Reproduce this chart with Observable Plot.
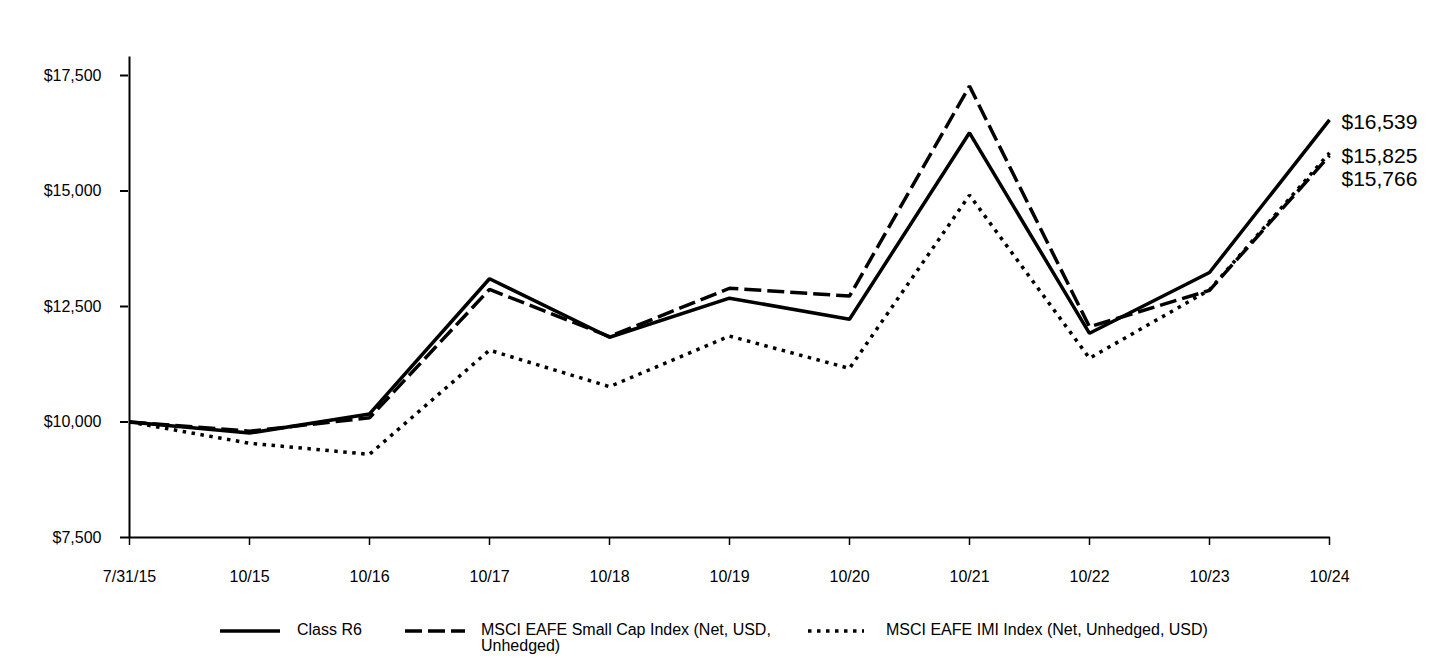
<!DOCTYPE html>
<html>
<head>
<meta charset="utf-8">
<script src="https://cdn.jsdelivr.net/npm/d3@7"></script>
<script src="https://cdn.jsdelivr.net/npm/@observablehq/plot@0.6"></script>
<style>
  html, body { margin: 0; padding: 0; background: #fff; }
  body { width: 1440px; height: 660px; position: relative; font-family: "Liberation Sans", Arial, sans-serif; }
  #legend { position: absolute; left: 0; top: 620px; width: 1440px; height: 40px; font-size: 16px; color: #000; }
  .item { position: absolute; top: 0; }
  .item svg { position: absolute; top: 7px; }
  .item .lbl { position: absolute; top: 2px; line-height: 16px; white-space: nowrap; }
</style>
</head>
<body>
<div id="chart"></div>
<div id="legend"></div>
<script>
const dates = ["7/31/15","10/15","10/16","10/17","10/18","10/19","10/20","10/21","10/22","10/23","10/24"];
const seriesNames = ["Class R6", "MSCI EAFE Small Cap Index (Net, USD, Unhedged)", "MSCI EAFE IMI Index (Net, Unhedged, USD)"];
const classR6  = [10000, 9760, 10175, 13100, 11835, 12680, 12225, 16260, 11920, 13235, 16539];
const smallCap = [10000, 9800, 10090, 12870, 11850, 12895, 12725, 17270, 12060, 12850, 15766];
const imi      = [10000, 9540,  9300, 11555, 10765, 11860, 11160, 14910, 11380, 12860, 15825];
const yTicks = [7500, 10000, 12500, 15000, 17500];

const allSeries = [classR6, smallCap, imi];
const data = [];
allSeries.forEach((vals, s) => vals.forEach((v, i) => data.push({series: seriesNames[s], date: dates[i], value: v})));
const last = data.filter(d => d.date === dates[dates.length - 1]);
const dashes = {[seriesNames[0]]: null, [seriesNames[1]]: "17,6", [seriesNames[2]]: "3.5,5.5"};

const sortedLast = [...last].sort((a, b) => b.value - a.value);
const fmt = d3.format("$,");

const marks = [
  Plot.ruleX([dates[0]], {y1: 7500, y2: 17900, stroke: "#000", strokeWidth: 2}),
  Plot.ruleY([7500], {stroke: "#000", strokeWidth: 2}),
  Plot.axisY({ticks: yTicks, tickSize: 8, tickPadding: 19, tickFormat: fmt, strokeWidth: 2, fontSize: 16, label: null}),
  Plot.axisX({tickSize: 8, tickPadding: 25, strokeWidth: 1.5, fontSize: 16, label: null}),
];
seriesNames.forEach(name => {
  marks.push(Plot.line(data.filter(d => d.series === name), {
    x: "date", y: "value", stroke: "#000", strokeWidth: 3.5,
    strokeDasharray: dashes[name], strokeLinecap: "butt", strokeLinejoin: "miter"
  }));
});
sortedLast.forEach((d, i) => {
  marks.push(Plot.text([d], {
    x: "date", y: "value", text: dd => fmt(dd.value),
    dx: 12, dy: i === 0 ? 2 : (i === 1 ? 3 : 24), textAnchor: "start", fontSize: 21, fill: "#000"
  }));
});

const chart = Plot.plot({
  width: 1440,
  height: 600,
  marginLeft: 128,
  marginRight: 110,
  marginTop: 75,
  marginBottom: 63,
  style: {fontFamily: "'Liberation Sans', Arial, sans-serif", fontSize: "16px", color: "#000", background: "#fff", overflow: "visible"},
  x: {type: "point", domain: dates, padding: 0},
  y: {domain: [7500, 17500]},
  marks
});
document.getElementById("chart").appendChild(chart);

const legendItems = [
  {name: seriesNames[0], text: "Class R6", x: 220, w: 60, textX: 297, dash: null},
  {name: seriesNames[1], text: "MSCI EAFE Small Cap Index (Net, USD,<br>Unhedged)", x: 405, w: 60, textX: 481, dash: "17,6"},
  {name: seriesNames[2], text: "MSCI EAFE IMI Index (Net, Unhedged, USD)", x: 808, w: 56, textX: 886, dash: "3.5,5.5"}
];
const legend = document.getElementById("legend");
legendItems.forEach(it => {
  const div = document.createElement("div");
  div.className = "item";
  div.style.left = it.x + "px";
  div.innerHTML = `<svg width="${it.w}" height="8" style="left:0"><line x1="0" x2="${it.w}" y1="4" y2="4" stroke="#000" stroke-width="3.5" ${it.dash ? `stroke-dasharray="${it.dash}"` : ""}/></svg>` +
    `<div class="lbl" style="left:${it.textX - it.x}px">${it.text}</div>`;
  legend.appendChild(div);
});
</script>
</body>
</html>
